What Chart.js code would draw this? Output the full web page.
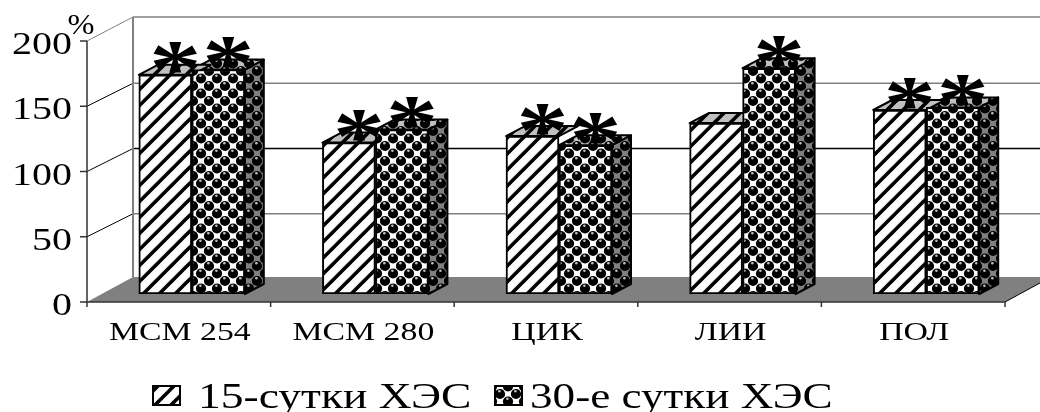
<!DOCTYPE html>
<html><head><meta charset="utf-8">
<style>html,body{margin:0;padding:0;background:#fff;overflow:hidden}canvas{display:block}</style>
<script src="https://cdn.jsdelivr.net/npm/chart.js@4"></script></head>
<body><div style="width:1040px;height:412px"><canvas id="c" width="1040" height="412"></canvas></div>
<script>
const categories = ["МСМ 254","МСМ 280","ЦИК","ЛИИ","ПОЛ"];
const seriesNames = ["15-сутки ХЭС","30-е сутки ХЭС"];
const values15 = [168,116,121,131,141];
const values30 = [172,126,114,173,143];
const stars15 = [1,1,1,0,1];
const stars30 = [1,1,1,1,1];
const yTicks = [0,50,100,150,200];
const unit = "%";
const FONT = '"Liberation Serif"';

function tile(w,h,draw){const c=document.createElement('canvas');c.width=w;c.height=h;draw(c.getContext('2d'),w,h);return c;}
function stripes(bg){
  const ctx0=document.createElement('canvas').getContext('2d');
  return ctx0.createPattern(tile(16,16,(g,w,h)=>{
    g.fillStyle=bg;g.fillRect(0,0,w,h);
    g.strokeStyle='#000';g.lineWidth=3.6;g.lineCap='square';
    for(const o of [-16,0,16]){g.beginPath();g.moveTo(o-2,h+2);g.lineTo(o+w+2,-2);g.stroke();}
  }),'repeat');
}
function dots(bg){
  const ctx0=document.createElement('canvas').getContext('2d');
  return ctx0.createPattern(tile(16,15,(g,w,h)=>{
    g.fillStyle=bg;g.fillRect(0,0,w,h);
    for(const [x,y] of [[4,4],[12,11.5]]){
      for(const [dx,dy] of [[0,0],[16,0],[-16,0],[0,15],[0,-15]]){
        g.fillStyle='#000';g.beginPath();g.arc(x+dx,y+dy,5.1,0,7);g.fill();
        g.fillStyle='#bbb';g.beginPath();g.arc(x+dx-0.6,y+dy-2.8,1.3,0,7);g.fill();
      }
    }
  }),'repeat');
}
function sText(ctx,t,x,y,size,sx,align,weight){
  ctx.save();ctx.font=(weight?weight+' ':'')+size+'px '+FONT;ctx.fillStyle='#000';ctx.textBaseline='alphabetic';ctx.textAlign=align||'center';
  ctx.translate(x,y);ctx.scale(sx,1);ctx.fillText(t,0,0);ctx.restore();
}
const D={wx:46,wy:-25,gy:-23,bx:13,by:-8,dx:19,dy:-10};

const scene={
  id:'scene',
  beforeDraw(ch){
    const g=ch.ctx,a=ch.chartArea,ys=ch.scales.y,xs=ch.scales.x;
    const L=a.left,R=a.right,B=ys.getPixelForValue(0);
    g.save();
    g.fillStyle='#808080';g.beginPath();g.moveTo(L,B);g.lineTo(L+D.wx,B+D.wy);g.lineTo(R+D.wx,B+D.wy);g.lineTo(R,B);g.closePath();g.fill();
    g.lineWidth=1.5;
    yTicks.forEach((v,i)=>{
      const y=ys.getPixelForValue(v);
      if(i>0){
        const oy=v===200?D.wy+1:D.gy;
        g.strokeStyle=(v===100)?'#000':'#808080';
        g.beginPath();g.moveTo(L+D.wx,y+oy);g.lineTo(R+D.wx+20,y+oy);g.stroke();
        g.strokeStyle=v===200?'#808080':'#000';g.lineWidth=1;
        g.beginPath();g.moveTo(L,y);g.lineTo(L+D.wx,y+oy);g.stroke();g.lineWidth=1.5;
      }
    });
    g.strokeStyle='#808080';g.lineWidth=2;
    g.beginPath();g.moveTo(L+D.wx,ys.getPixelForValue(200)+D.wy+1);g.lineTo(L+D.wx,B+D.wy);g.stroke();
    g.strokeStyle='#000';g.lineWidth=1;
    g.beginPath();g.moveTo(R,B);g.lineTo(R+D.wx,B+D.wy);g.stroke();
    g.strokeStyle='#333';g.lineWidth=1.5;
    g.beginPath();g.moveTo(L,ys.getPixelForValue(200));g.lineTo(L,B);g.lineTo(R,B);g.stroke();
    yTicks.forEach(v=>{const y=ys.getPixelForValue(v);g.beginPath();g.moveTo(L-7,y);g.lineTo(L,y);g.stroke();
      sText(g,String(v),72,y+13,32,1.25,'right');});
    categories.forEach((c,i)=>{
      const cx=xs.getPixelForTick(i),w=(R-L)/categories.length;
      g.beginPath();g.moveTo(cx-w/2,B);g.lineTo(cx-w/2,B+5);g.stroke();
      sText(g,c,cx+1,340,26,1.3);
    });
    g.beginPath();g.moveTo(R,B);g.lineTo(R,B+5);g.stroke();
    sText(g,unit,81,34,30,1.08);
    const lg=[[153,198,1.3],[495,530,1.29]];
    ch.data.datasets.forEach((ds,i)=>{
      g.fillStyle=ds.backgroundColor;g.fillRect(lg[i][0],386,27,19);
      g.strokeStyle='#000';g.lineWidth=2;g.strokeRect(lg[i][0],386,27,19);
      sText(g,ds.label,lg[i][1],408,35,lg[i][2],'left');
    });
    g.restore();
  },
  beforeDatasetsDraw(ch){
    const g=ch.ctx;
    g.save();g.translate(D.bx,D.by);
    g.lineWidth=2;g.strokeStyle='#000';g.lineJoin='round';
    [1,0].forEach(di=>{
      ch.getDatasetMeta(di).data.forEach(b=>{
        const l=b.x-b.width/2,r=b.x+b.width/2,t=b.y,bt=b.base;
        if(di===1){
          g.fillStyle=sideDots;g.beginPath();g.moveTo(r,t);g.lineTo(r+D.dx,t+D.dy);g.lineTo(r+D.dx,bt+D.dy);g.lineTo(r,bt);g.closePath();g.fill();g.stroke();
        }
        g.fillStyle=di===1?topDots:topStripes;
        g.beginPath();g.moveTo(l,t);g.lineTo(l+D.dx,t+D.dy);g.lineTo(r+D.dx,t+D.dy);g.lineTo(r,t);g.closePath();g.fill();g.stroke();
      });
    });
  },
  afterDatasetsDraw(ch){
    const g=ch.ctx;
    g.restore();
    [stars15,stars30].forEach((s,di)=>{
      ch.getDatasetMeta(di).data.forEach((b,i)=>{
        if(s[i]) sText(g,'*',b.x+D.bx+10,b.y+D.by-17+0.47*80,80,1.3,'center','bold');
      });
    });
  }
};
const stripeFill=stripes('#fff'),dotFill=dots('#fff'),sideDots=dots('#808080'),topDots=dots('#c0c0c0'),topStripes=stripes('#c0c0c0');

Chart.defaults.font.family=FONT;
const fit0=s=>{s.width=0;s.height=0;};
new Chart(document.getElementById('c'),{
  type:'bar',
  data:{labels:categories,datasets:[
    {label:seriesNames[0],data:values15,backgroundColor:stripeFill,borderColor:'#000',borderWidth:2,borderSkipped:false,barThickness:53},
    {label:seriesNames[1],data:values30,backgroundColor:dotFill,borderColor:'#000',borderWidth:2,borderSkipped:false,barThickness:53}
  ]},
  options:{
    responsive:false,animation:false,
    layout:{padding:{left:87,right:35,top:41,bottom:110}},
    plugins:{legend:{display:false},title:{display:false},tooltip:{enabled:false}},
    scales:{
      x:{afterFit:fit0,grid:{display:false},border:{display:false},ticks:{display:false}},
      y:{afterFit:fit0,min:0,max:200,grid:{display:false},border:{display:false},ticks:{display:false,stepSize:50}}
    }
  },
  plugins:[scene]
});
</script></body></html>
